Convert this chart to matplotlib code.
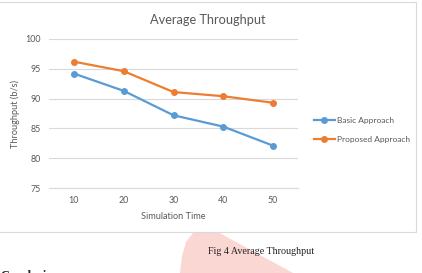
import matplotlib
matplotlib.use("Agg")
from matplotlib import pyplot as plt
from matplotlib import patches

FIGSIZE = (422, 273)
DPI = 100

BLUE = "#5b9bd5"
ORANGE = "#ed7d31"
GRID = "#d9d9d9"
TEXT = "#595959"

sim_time = [10, 20, 30, 40, 50]
basic = [94.2, 91.3, 87.2, 85.3, 82.1]
proposed = [96.2, 94.6, 91.1, 90.4, 89.3]

plt.rcParams["font.family"] = ["Lato", "DejaVu Sans"]

fig = plt.figure(figsize=(FIGSIZE[0] / DPI, FIGSIZE[1] / DPI), dpi=DPI)


def fx(x):
    return x / FIGSIZE[0]


def fy(y):
    return 1 - y / FIGSIZE[1]


# pink watermark behind the chart box
blob = [(180, 273), (182, 256), (186, 242), (193, 233), (203, 228), (214, 230), (293, 273)]
fig.patches.append(patches.Polygon([(fx(x), fy(y)) for x, y in blob], closed=True,
                                   transform=fig.transFigure, facecolor="#fad7d2",
                                   edgecolor="none", zorder=0))

# chart box
fig.patches.append(patches.Rectangle((fx(-2), fy(232)), fx(418), 230 / FIGSIZE[1],
                                     transform=fig.transFigure, facecolor="white",
                                     edgecolor=GRID, linewidth=0.8, zorder=1))

ax = fig.add_axes([fx(49), fy(188), fx(249), 149 / FIGSIZE[1]])
ax.set_facecolor("none")
ax.set_zorder(2)

ax.plot(sim_time, basic, "-o", color=BLUE, lw=1.6, ms=4, label="Basic Approach")
ax.plot(sim_time, proposed, "-o", color=ORANGE, lw=1.6, ms=4, label="Proposed Approach")

ax.set_xlim(5, 55)
ax.set_ylim(75, 100)
ax.set_xticks(sim_time)
ax.set_yticks([75, 80, 85, 90, 95, 100])
ax.grid(axis="y", color=GRID, lw=0.8)
ax.set_axisbelow(True)
for s in ["top", "right", "left"]:
    ax.spines[s].set_visible(False)
ax.spines["bottom"].set_color(GRID)
ax.spines["bottom"].set_linewidth(0.8)
ax.tick_params(length=0, labelsize=6.4, colors=TEXT, pad=6)

ax.set_xlabel("Simulation Time", fontsize=6.6, color=TEXT, labelpad=5)
ax.set_ylabel("Throughput (b/s)", fontsize=6.6, color=TEXT, labelpad=4)

fig.text(fx(208), fy(20), "Average Throughput", fontsize=9.2, color=TEXT,
         ha="center", va="center", zorder=3)

ax.legend(loc="center left", bbox_to_anchor=(fx(306), fy(130)),
          bbox_transform=fig.transFigure, frameon=False, fontsize=6,
          labelcolor=TEXT, handlelength=2.6, handletextpad=0.2, labelspacing=1.5)

fig.text(fx(208), fy(252), "Fig 4 Average Throughput", fontsize=7.2,
         family="Liberation Serif", color="#222222", ha="left", va="center")
fig.text(0, fy(279), "Conclusion", fontsize=9, family="Liberation Serif",
         weight="bold", color="#222222", ha="left", va="baseline")

fig.savefig("out.png", dpi=DPI)
